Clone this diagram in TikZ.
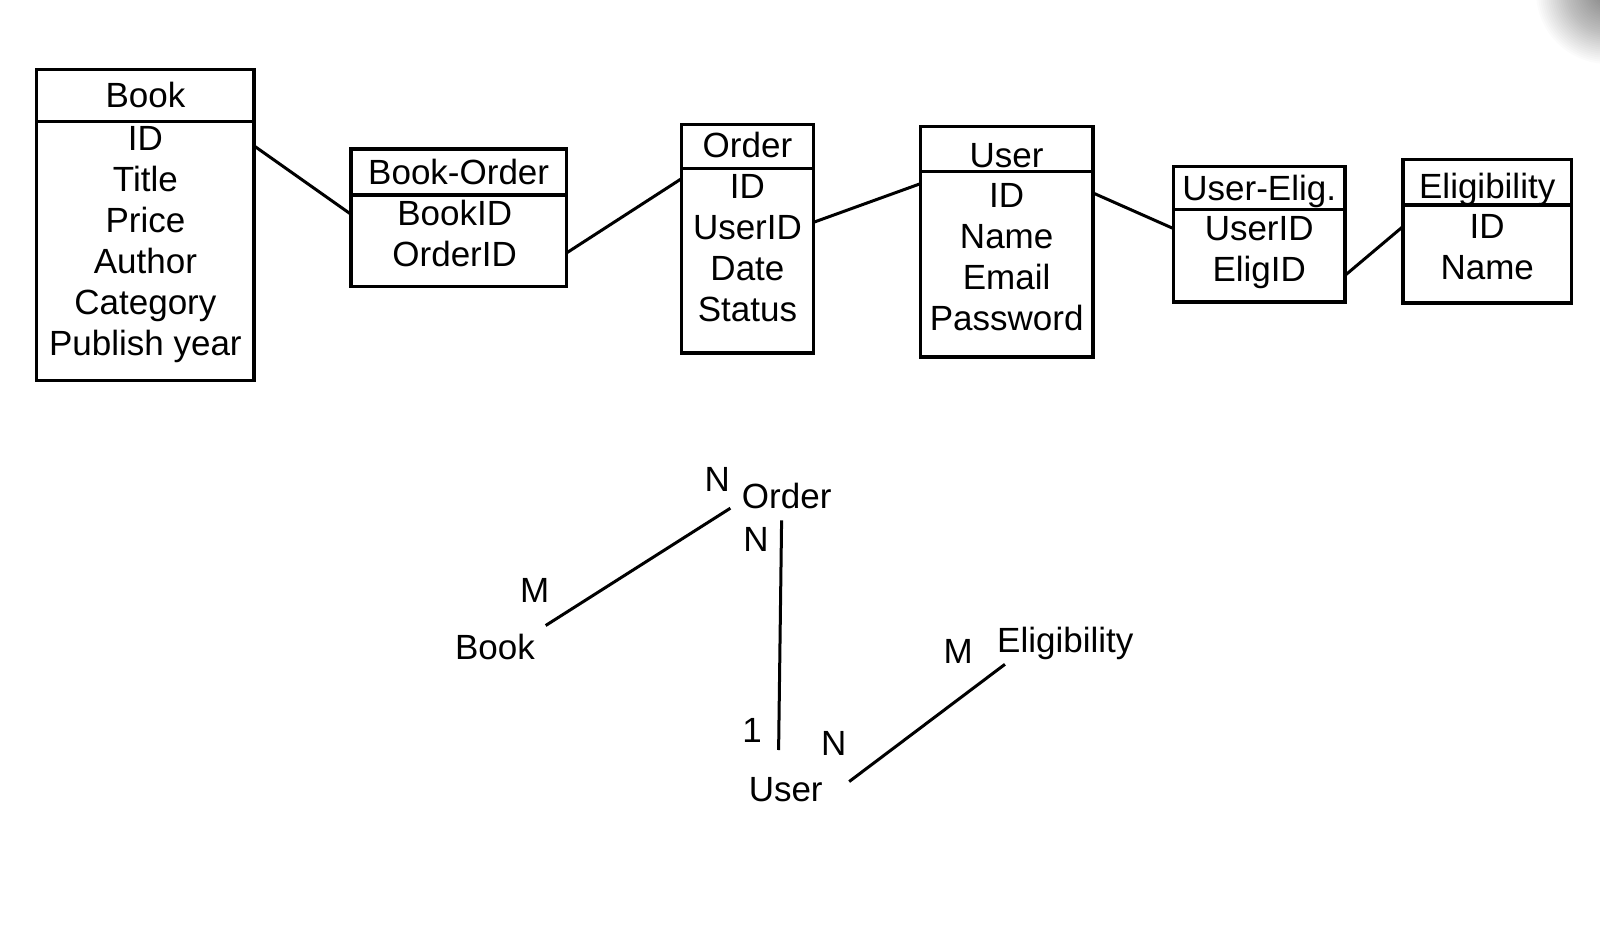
\documentclass[tikz,border=0pt]{standalone}
\usepackage{fontspec}
\setmainfont{Liberation Sans}
\usepackage{tikz}
%%
%% One table: name, left, top, width, title height, body height,
%% title, fields, centre of the first field.
\newcommand{\erTable}[9]{%%
  %% The title box.
  \node[titleStyle,minimum width=#4,minimum height=#5] (#1Title) at (#2,#3) {#7};
  %% The box of the fields.
  \node[bodyStyle,minimum width=#4,minimum height=#6] (#1) at (#1Title.south west) {};
  %% The fields.
  \node[fieldStyle] (#1Fields) at ({#2+#4/2},{#9-12.5}) {\rule{0pt}{25pt}#8};
}

\begin{document}
\begin{tikzpicture}[%%
  x=1pt,y=-1pt,%%
  font=\fontsize{35}{41}\selectfont,%%
  titleStyle/.style={draw,line width=3.3pt,anchor=north west,inner sep=2pt,outer sep=0pt,text height=25pt,text depth=0pt},%%
  bodyStyle/.style={draw,line width=3.3pt,anchor=north west,inner sep=0pt,outer sep=0pt},%%
  fieldStyle/.style={anchor=north,align=center,inner sep=0pt},%%
  linkStyle/.style={-,line width=3pt},%%
  erStyle/.style={anchor=base,inner sep=0pt}%%
]
\path[use as bounding box,fill=white] (0,0) rectangle (1600,933);
%% Shadow in the corner.
\foreach \r in {72,70,...,4}
  \fill[black,opacity=0.016] (1608,-8) circle (\r);
%%
%% The tables.
\erTable{book}{36.7}{69.4}{217.4}{52}{259.2}{Book}{ID\\Title\\Price\\Author\\Category\\Publish year}{137.8}
\erTable{bookOrder}{351}{149}{215.3}{45.9}{91.8}{Book-Order}{\hspace*{-8pt}BookID\\\hspace*{-8pt}OrderID}{212.2}
\erTable{order}{681.6}{124.5}{131.7}{43.9}{184.7}{\raisebox{1.5pt}{Order}}{ID\\UserID\\Date\\Status}{185.7}
\erTable{user}{920.4}{126.5}{172.5}{44.9}{185.7}{\raisebox{-6pt}{User}}{ID\\Name\\Email\\Password}{194.9}
\erTable{userElig}{1173.5}{166.3}{171.4}{42.9}{92.8}{User-Elig.}{UserID\\EligID}{227.6}
\erTable{elig}{1403}{159.2}{168.4}{45.9}{98}{\raisebox{-3.5pt}{Eligibility}}{ID\\Name}{225.5}
%%
\draw[linkStyle] ([yshift=-24.5]book.north east) -- ([yshift=-19.4]bookOrder.north west);
\draw[linkStyle] ([yshift=-58.2]bookOrder.north east) -- ([yshift=-10.2]order.north west);
\draw[linkStyle] ([yshift=-54]order.north east) -- ([yshift=-12.3]user.north west);
\draw[linkStyle] ([yshift=-21.5]user.north east) -- ([yshift=-19.4]userElig.north west);
\draw[linkStyle] ([yshift=-66.3]userElig.north east) -- ([yshift=-21.4]elig.north west);
%%
%% The relations.
\node[erStyle] (erOrder) at (786.7,508.5) {Order};
\node[erStyle] (erBook) at (494.9,659.5) {Book};
\node[erStyle] (erElig) at (1065.3,652.4) {Eligibility};
\node[erStyle] (erUser) at (785.7,801.4) {User};
\node[erStyle] (cardOrderBook) at (717.3,491.2) {N};
\node[erStyle] (cardOrderUser) at (756.1,551.4) {N};
\node[erStyle] (cardBook) at (534.7,602.4) {M};
\node[erStyle] (cardUserOrder) at (752,742.2) {1};
\node[erStyle] (cardUserElig) at (833.7,755.5) {N};
\node[erStyle] (cardElig) at (958.2,663.6) {M};
%%
\draw[linkStyle] ([xshift=10.7,yshift=34]erBook.base east) -- ([xshift=-11.4,yshift=0.3]erOrder.base west);
\draw[linkStyle] ([xshift=-5.1,yshift=-11.9]erOrder.base) -- ([xshift=-7.1,yshift=51.4]erUser.base);
\draw[linkStyle] ([xshift=26.3,yshift=19.8]erUser.base east) -- ([xshift=7.9,yshift=-11.9]erElig.base west);
\end{tikzpicture}
\end{document}
